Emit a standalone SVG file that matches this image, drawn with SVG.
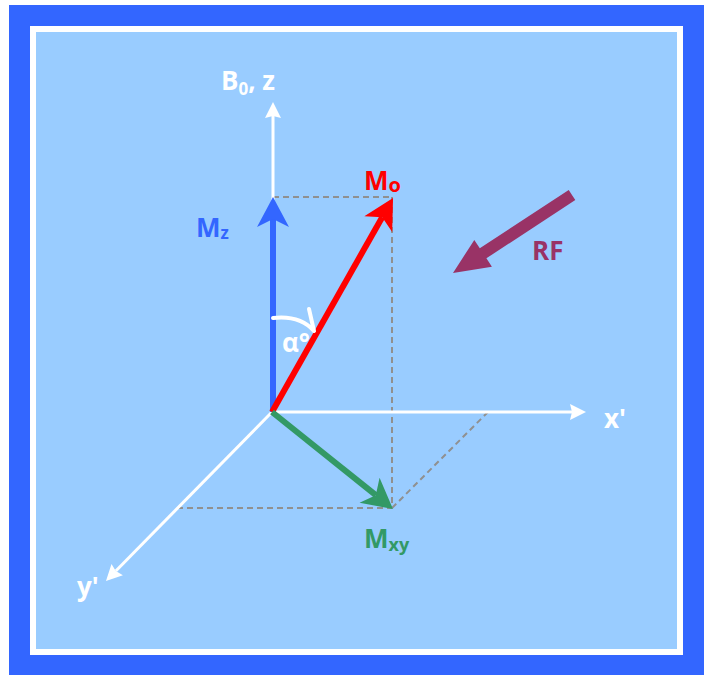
<svg xmlns="http://www.w3.org/2000/svg" width="704" height="675" viewBox="0 0 704 675">
<style>
.t{font-family:"Open Sans","Liberation Sans",sans-serif;font-weight:bold;font-size:26px}
.s{font-size:17px}
.dash{stroke:#909090;stroke-width:2;stroke-dasharray:6 4;fill:none}
.ax{stroke:#FFFFFF;stroke-width:3;fill:none}
</style>
<defs>
<marker id="hw" viewBox="-10 -20 40 40" markerWidth="40" markerHeight="40" refX="0" refY="0" markerUnits="userSpaceOnUse" orient="auto" overflow="visible">
<path d="M14,0 L-2,-8 L0,0 L-2,8 Z" fill="#FFFFFF"/>
</marker>
<marker id="hb" viewBox="-10 -20 40 40" markerWidth="40" markerHeight="40" refX="0" refY="0" markerUnits="userSpaceOnUse" orient="auto" overflow="visible">
<path d="M22,0 L-8,-16 L0,0 L-8,16 Z" fill="#3366FF"/>
</marker>
<marker id="hr" viewBox="-10 -20 40 40" markerWidth="40" markerHeight="40" refX="0" refY="0" markerUnits="userSpaceOnUse" orient="auto" overflow="visible">
<path d="M22,0 L-8,-16 L0,0 L-8,16 Z" fill="#FF0000"/>
</marker>
<marker id="hg" viewBox="-10 -20 40 40" markerWidth="40" markerHeight="40" refX="0" refY="0" markerUnits="userSpaceOnUse" orient="auto" overflow="visible">
<path d="M22,0 L-8,-16 L0,0 L-8,16 Z" fill="#339966"/>
</marker>
</defs>
<rect x="9" y="5" width="695" height="670" fill="#3366FF"/>
<rect x="33" y="29" width="647" height="623" fill="#99CCFF" stroke="#FFFFFF" stroke-width="6"/>
<g id="connectors">
<line class="dash" x1="273" y1="197" x2="392" y2="197"/>
<line class="dash" x1="392" y1="197" x2="392" y2="508"/>
<line class="dash" x1="177" y1="508" x2="392" y2="508"/>
<line class="dash" x1="392" y1="508" x2="488" y2="412"/>
<line class="ax" x1="273" y1="412" x2="273" y2="116" marker-end="url(#hw)"/>
<line class="ax" x1="272" y1="412" x2="572" y2="412" marker-end="url(#hw)"/>
<line class="ax" x1="272" y1="412" x2="115.8" y2="571" marker-end="url(#hw)"/>
<line x1="273" y1="412" x2="273" y2="219" stroke="#3366FF" stroke-width="6" marker-end="url(#hb)"/>
<line x1="272" y1="412" x2="382.2" y2="217.2" stroke="#FF0000" stroke-width="6" marker-end="url(#hr)"/>
<line x1="272" y1="412" x2="375.8" y2="495.2" stroke="#339966" stroke-width="6" marker-end="url(#hg)"/>
<polygon id="rf-arrow" points="575.3,200 568.7,190 479.8,248.3 474.3,239.9 453,273 491.9,266.7 486.4,258.3" fill="#993366"/>
<path d="M273,318 Q300,315 314,331 M314,331 L309,309" stroke="#FFFFFF" stroke-width="4" fill="none" stroke-linecap="round" stroke-linejoin="round"/>
</g>
<g id="label-b0z"><text class="t" x="221" y="90" fill="#FFFFFF">B<tspan class="s" dy="5">0</tspan><tspan dy="-5">, z</tspan></text></g>
<g id="label-mz"><text class="t" x="196" y="237" fill="#3366FF">M<tspan class="s" dy="2">z</tspan></text></g>
<g id="label-mo"><text class="t" x="364" y="190" fill="#FF0000">M<tspan dy="2" style="font-size:20px">o</tspan></text></g>
<g id="label-alpha"><text class="t" x="282" y="352" fill="#FFFFFF">α°</text></g>
<g id="label-rf"><text class="t" x="532" y="260" fill="#993366">RF</text></g>
<g id="label-x"><text class="t" x="604" y="428" fill="#FFFFFF">x'</text></g>
<g id="label-y"><text class="t" x="77" y="596" fill="#FFFFFF">y'</text></g>
<g id="label-mxy"><text class="t" x="364" y="548" fill="#339966">M<tspan dy="3" style="font-size:18px">xy</tspan></text></g>
</svg>
